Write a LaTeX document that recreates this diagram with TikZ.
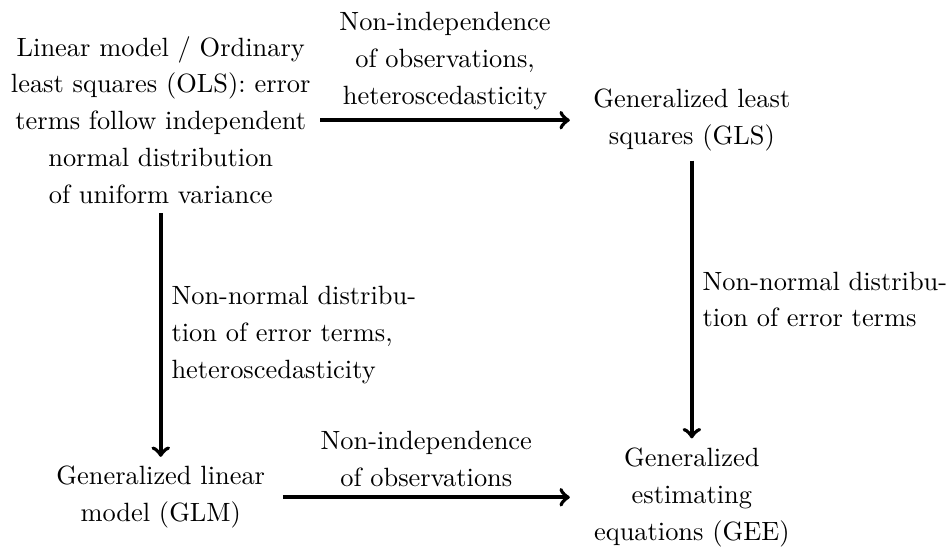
\documentclass[tikz,border=0pt]{standalone}
\usepackage{tikz}

\begin{document}
\begin{tikzpicture}[
        every node/.append style={font=\fontsize{10}{14}\selectfont},
        model/.style={align=center, text width=3cm},
        cond/.style={align=center},
        flow/.style={->, line width=1.5pt}
    ]
        \useasboundingbox (0, 0) rectangle (12.66, 7.32);

        % Models
        \node[model, text width=4cm] (ols) at (2.14, 5.72) {Linear model / Ordinary\\ least squares (OLS): error\\ terms follow independent\\ normal distribution\\ of uniform variance};
        \node[model] (gls) at (9.21, 5.72) {Generalized least\\ squares (GLS)};
        \node[model] (glm) at (2.14, 0.70) {Generalized linear\\ model (GLM)};
        \node[model] (gee) at (9.21, 0.70) {Generalized\\ estimating\\ equations (GEE)};

        % Relaxed assumptions
        \draw[flow] (ols) -- node[cond, above] {Non-independence\\ of observations,\\ heteroscedasticity} (gls);
        \draw[flow] (glm) -- node[cond, above] {Non-independence\\ of observations} (gee);
        \draw[flow] (ols) -- node[cond, right, align=left] {Non-normal distribu-\\tion of error terms,\\ heteroscedasticity} (glm);
        \draw[flow] (gls) -- node[cond, right, align=left] {Non-normal distribu-\\tion of error terms} (gee);
    \end{tikzpicture}
\end{document}
